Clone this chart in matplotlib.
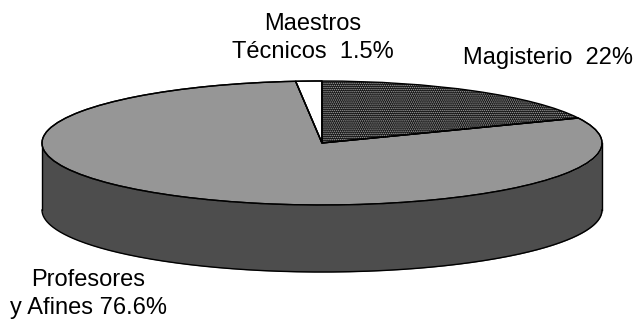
import numpy as np
import matplotlib
matplotlib.use('Agg')
import matplotlib.pyplot as plt

plt.rcParams['font.family'] = ['Liberation Sans', 'DejaVu Sans']
plt.rcParams['hatch.linewidth'] = 0.7

W, H = 637, 321
categories = ['Magisterio', 'Profesores y Afines', 'Maestros Técnicos']
# Slice sizes as drawn in the picture (the printed labels differ slightly)
drawn_shares = [18.4, 80.1, 1.5]
labels = ['Magisterio  22%', 'Profesores\ny Afines 76.6%', 'Maestros\nTécnicos  1.5%']
colors = ['#111111', '#969696', '#ffffff']

CX, CY, RX, RY, DEPTH = 322, 143, 280, 62, 67

fig = plt.figure(figsize=(W / 100, H / 100), dpi=100)
ax = fig.add_axes([0, 0, 1, 1])

t = np.linspace(np.pi, 2 * np.pi, 400)
d = DEPTH / RY
xs = np.cos(t)
ax.fill_between(xs, np.sin(t) - d, np.sin(t), color='#4d4d4d', lw=0, zorder=1)
ax.plot(xs, np.sin(t) - d, color='black', lw=1.0, zorder=2)
ax.plot([-1, -1], [0, -d], color='black', lw=1.0, zorder=2)
ax.plot([1, 1], [0, -d], color='black', lw=1.0, zorder=2)

wedges, _ = ax.pie(drawn_shares, colors=colors, startangle=90, counterclock=False,
                   radius=1.0, wedgeprops=dict(edgecolor='black', linewidth=1.0, zorder=3))
wedges[0].set_hatch('........')
wedges[0].set_edgecolor('#a8a8a8')
wedges[0].set_linewidth(0)
ax.pie(drawn_shares, colors=['none'] * 3, startangle=90, counterclock=False,
       radius=1.0, wedgeprops=dict(edgecolor='black', linewidth=1.0, zorder=4, fill=False))

ax.set_aspect('auto')
ax.set_xlim((0 - CX) / RX, (W - CX) / RX)
ax.set_ylim((CY - H) / RY, CY / RY)
ax.axis('off')

fs = 17
ls = 1.38
fig.text(548 / W, 1 - 64 / H, labels[0], ha='center', va='baseline', fontsize=fs)
fig.text(88 / W, 1 - 314 / H, labels[1], ha='center', va='baseline', fontsize=fs, linespacing=ls)
fig.text(313 / W, 1 - 58 / H, labels[2], ha='center', va='baseline', fontsize=fs, linespacing=ls)

fig.savefig('out.png', dpi=100)
